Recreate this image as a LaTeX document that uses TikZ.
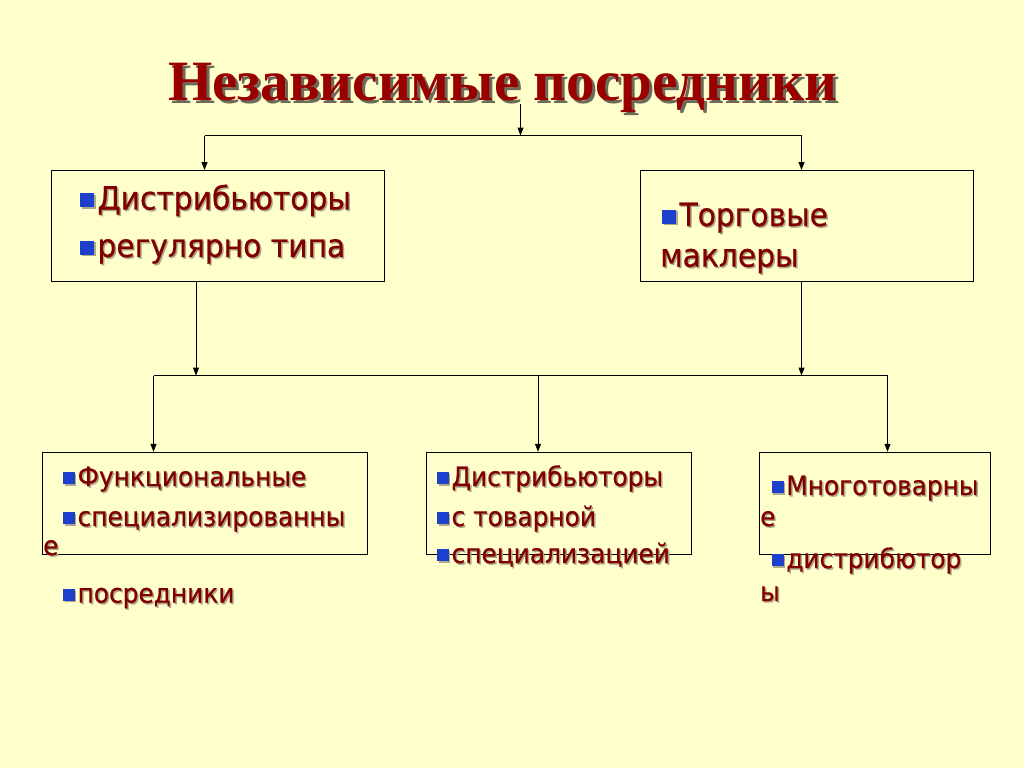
\documentclass[tikz,border=0pt]{standalone}
\usepackage{fontspec}
\newfontfamily\tah[FakeStretch=0.93,FakeBold=0.6]{DejaVu Sans}
\newfontfamily\ttl{Liberation Serif}
\usetikzlibrary{arrows.meta}
\definecolor{bg}{HTML}{FFFFCC}
\definecolor{tred}{HTML}{800000}
\definecolor{titred}{HTML}{990000}
\definecolor{bulblue}{HTML}{1C3FCC}
\definecolor{tshadow}{HTML}{B0A88C}
\definecolor{ttshadow}{HTML}{6E6A5A}
\newcommand\bulcol{bulblue}
\newcommand\bul{{\color{\bulcol}\rule[0.07em]{0.44em}{0.44em}}\hspace{0.1em}}
\newcommand\shd[1]{\leavevmode\rlap{\hspace{1.5pt}\raisebox{-1.5pt}{\def\bulcol{tshadow}\color{tshadow}#1}}#1}
\newcommand\tshd[1]{\leavevmode\rlap{\hspace{3pt}\raisebox{-3pt}{\color{ttshadow}#1}}#1}
\tikzset{
  box/.style={draw=black, line width=1pt, inner sep=0pt},
  conn/.style={draw=black, line width=1pt},
  arr/.style={conn, -{Triangle[length=8pt,width=6pt]}},
  big/.style={anchor=base west, inner sep=0pt, text=tred, font=\tah\fontsize{32}{32}\selectfont},
  small/.style={anchor=base west, inner sep=0pt, text=tred, font=\tah\fontsize{26.7}{26.7}\selectfont},
  titletext/.style={anchor=base, inner sep=0pt, text=titred, font=\ttl\bfseries\fontsize{57}{57}\selectfont}
}
\begin{document}
\begin{tikzpicture}[x=1pt, y=-1pt]
\useasboundingbox (0,0) rectangle (1024,768);
\fill[bg] (0,0) rectangle (1024,768);

% title
\node[titletext] (title) at (502.5,100) {\tshd{Независимые посредники}};

% boxes
\node[box, minimum width=333pt, minimum height=111pt] (b1) at (217.5,226) {};
\node[box, minimum width=333pt, minimum height=111pt] (b2) at (806.5,226) {};
\node[box, minimum width=325pt, minimum height=102pt] (b3) at (204.5,503.3) {};
\node[box, minimum width=265pt, minimum height=102pt] (b4) at (559.2,503.3) {};
\node[box, minimum width=231pt, minimum height=102pt] (b5) at (874.7,503.3) {};

% junction coordinates
\coordinate (t0) at (520.5,104);
\coordinate (j0) at (520.5,135.5);
\coordinate (jl) at (204.5,135.5);
\coordinate (jr) at (801.5,135.5);
\coordinate (k1) at (196,375.5);
\coordinate (k2) at (801.5,375.5);
\coordinate (kl) at (153.5,375.5);
\coordinate (km) at (538,375.5);
\coordinate (kr) at (887.5,375.5);

% connectors
\draw[arr] (t0) -- (j0);
\draw[conn] (jl) -- (jr);
\draw[arr] (jl) -- (jl |- b1.north);
\draw[arr] (jr) -- (jr |- b2.north);
\draw[arr] (k1 |- b1.south) -- (k1);
\draw[arr] (k2 |- b2.south) -- (k2);
\draw[conn] (kl) -- (kr);
\draw[arr] (kl) -- (kl |- b3.north);
\draw[arr] (km) -- (km |- b4.north);
\draw[arr] (kr) -- (kr |- b5.north);

% box 1 text
\node[big] (t11) at (80,209.5) {\shd{\bul Дистрибьюторы}};
\node[big] (t12) at (80,257) {\shd{\bul регулярно типа}};
% box 2 text
\node[big] (t21) at (662,226) {\shd{\bul Торговые}};
\node[big] (t22) at (660,266.7) {\shd{маклеры}};
% box 3 text
\node[small] (t31) at (63,486) {\shd{\bul Функциональные}};
\node[small] (t32) at (63,526) {\shd{\bul специализированны}};
\node[small] (t33) at (43,555) {\shd{е}};
\node[small] (t34) at (63,602.7) {\shd{\bul посредники}};
% box 4 text
\node[small] (t41) at (437,486) {\shd{\bul Дистрибьюторы}};
\node[small] (t42) at (437,526) {\shd{\bul с товарной}};
\node[small] (t43) at (437,563) {\shd{\bul специализацией}};
% box 5 text
\node[small] (t51) at (771.7,495) {\shd{\bul Многотоварны}};
\node[small] (t52) at (760,526) {\shd{е}};
\node[small] (t53) at (771.7,568) {\shd{\bul дистрибютор}};
\node[small] (t54) at (760,601) {\shd{ы}};
\end{tikzpicture}
\end{document}
